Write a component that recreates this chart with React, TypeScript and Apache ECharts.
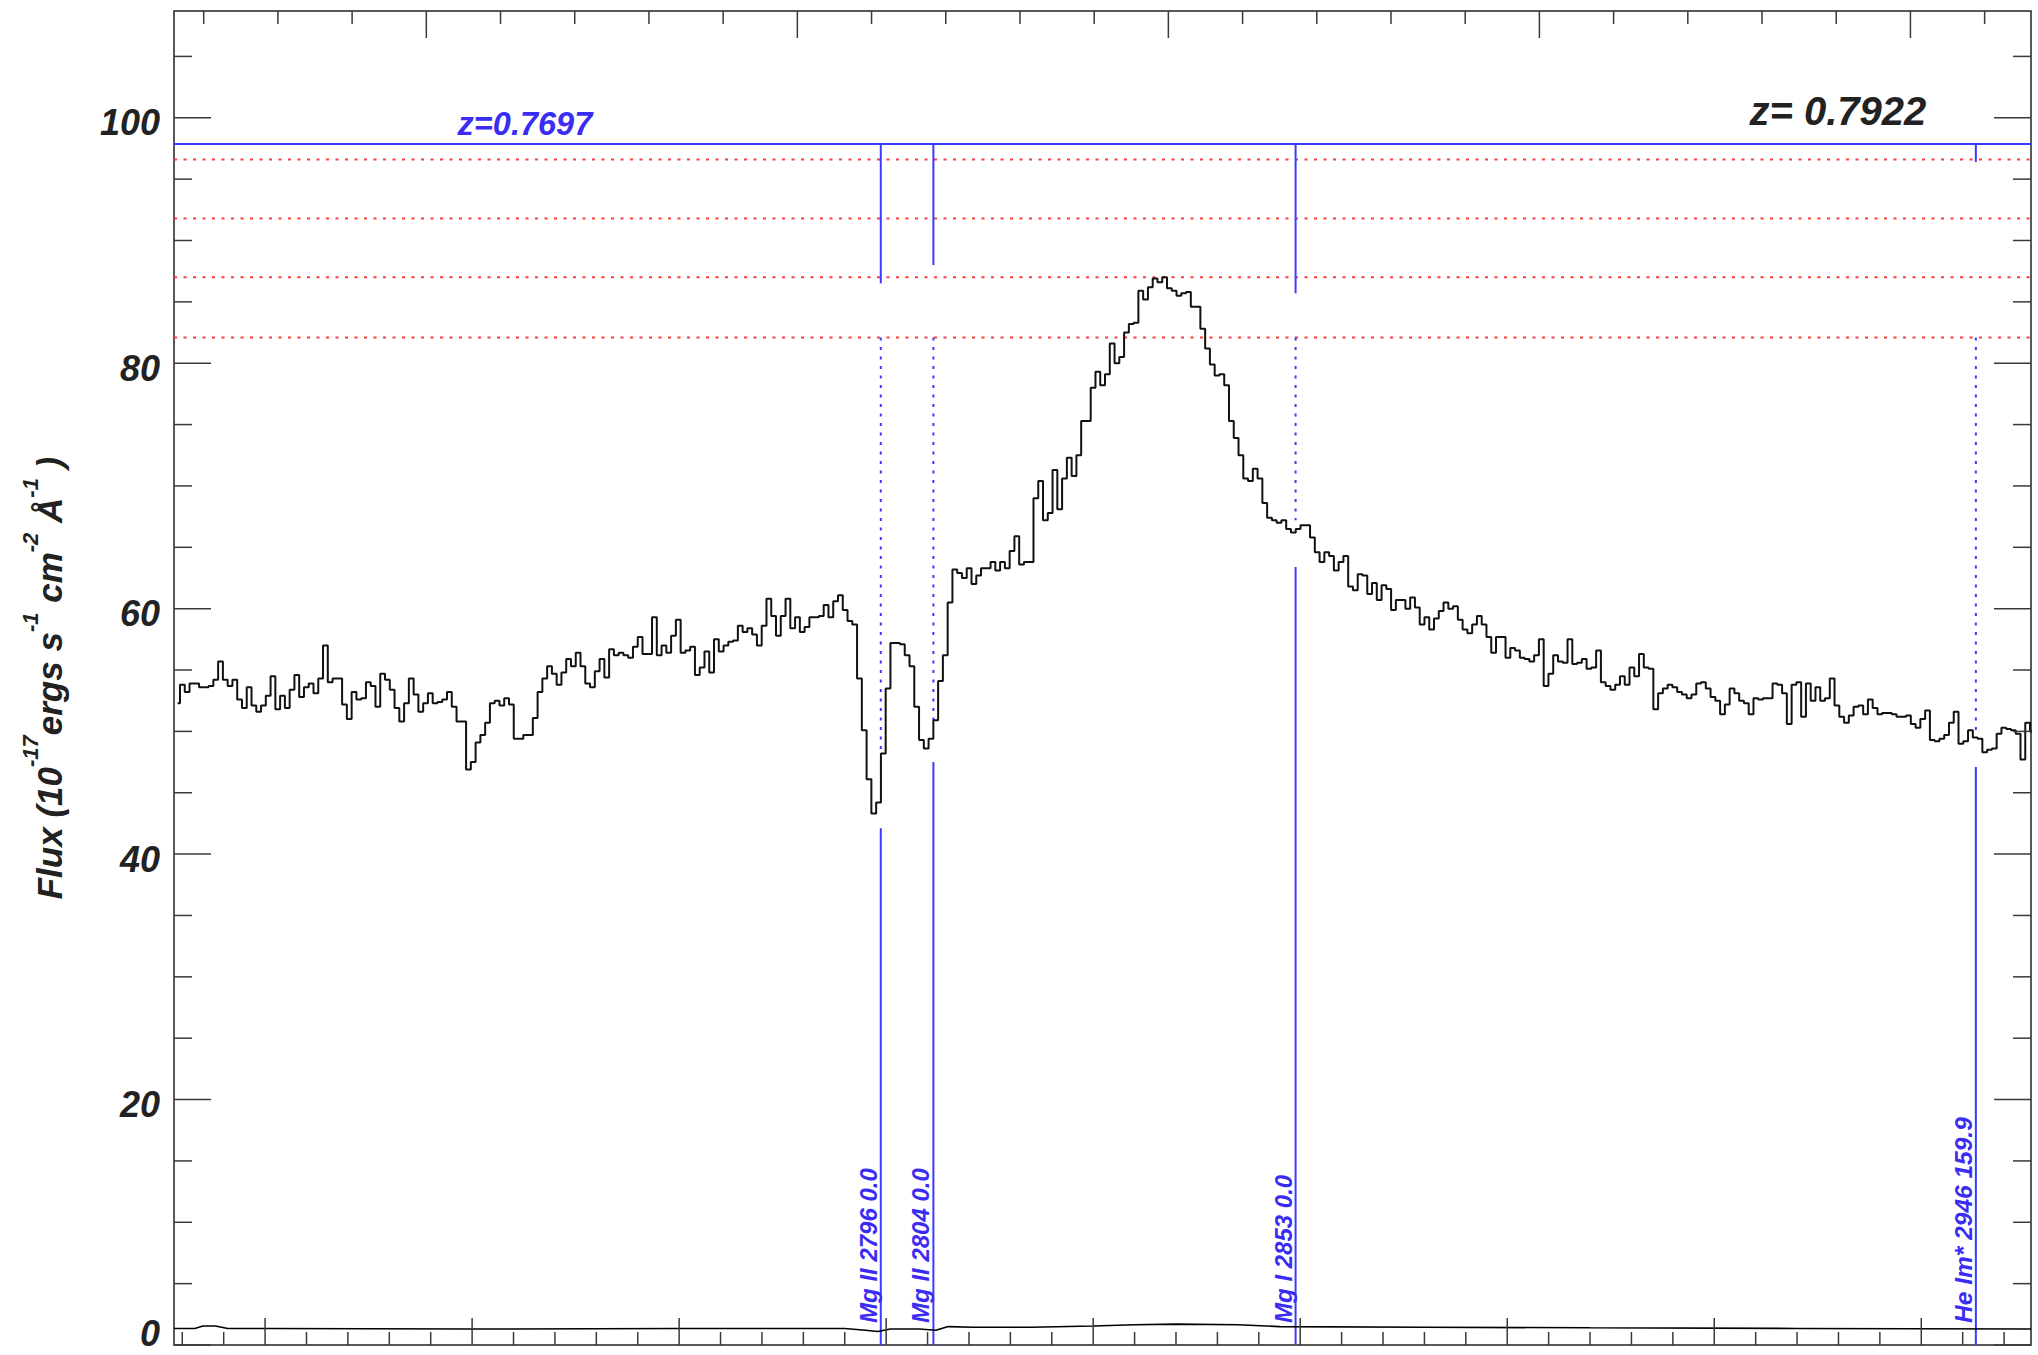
import React, { useEffect, useRef } from "react";
import * as echarts from "echarts";

// ---------------- data ----------------
const Z_EM = 0.7922; // quasar redshift (top axis = rest frame)
const Z_ABS = 0.7697; // absorber redshift
const X_MIN = 4778;
const X_MAX = 5226.5;
const Y_MIN = 0;
const Y_MAX = 108.7;

// uniform wavelength grid of the spectrum (observed frame, Å)
const WAVE_START = 4778.87;
const WAVE_STEP = 1.1516;

const flux = [
  52.3, 53.8, 53.2, 53.9, 53.9, 53.6, 53.6, 53.7, 54.2, 55.7,
  54.2, 53.7, 54.2, 52.6, 51.9, 53.6, 52.1, 51.6, 52.1, 52.9,
  54.5, 51.8, 52.9, 51.9, 53.4, 54.6, 52.8, 53.6, 53.9, 53.1,
  54.3, 57.0, 54.0, 54.3, 54.3, 52.2, 51.0, 53.2, 52.6, 52.7,
  54.0, 53.7, 52.0, 54.7, 54.2, 53.4, 51.9, 50.8, 52.3, 54.3,
  53.0, 51.6, 52.3, 53.1, 52.3, 52.4, 52.6, 53.2, 52.0, 50.8,
  50.8, 46.9, 47.5, 49.1, 49.7, 50.7, 52.3, 52.5, 52.1, 52.7,
  52.2, 49.4, 49.4, 49.7, 49.7, 51.1, 53.2, 54.3, 55.3, 54.7,
  53.8, 54.8, 55.9, 55.3, 56.4, 55.3, 53.9, 53.6, 54.9, 55.9,
  54.4, 56.7, 56.2, 56.4, 56.2, 56.0, 56.9, 57.7, 56.3, 56.3,
  59.3, 56.2, 57.0, 56.4, 57.8, 59.1, 56.4, 56.6, 56.9, 54.6,
  55.2, 56.5, 54.8, 57.5, 56.5, 57.0, 57.3, 57.4, 58.6, 58.1,
  58.4, 57.9, 57.0, 58.6, 60.8, 59.4, 57.8, 59.4, 60.8, 58.4,
  59.3, 58.1, 58.5, 59.3, 59.3, 59.4, 60.3, 59.3, 60.6, 61.1,
  59.9, 59.0, 58.7, 54.3, 50.1, 46.1, 43.3, 44.2, 48.2, 53.5,
  57.2, 57.2, 57.1, 56.2, 55.3, 52.0, 49.3, 48.6, 49.4, 50.9,
  54.1, 56.2, 60.5, 63.2, 62.9, 62.5, 63.3, 62.0, 62.7, 63.3,
  63.3, 63.8, 63.1, 63.8, 63.3, 64.7, 65.9, 63.6, 63.8, 63.8,
  69.0, 70.4, 67.2, 67.8, 71.3, 68.1, 70.6, 72.3, 70.8, 72.5,
  75.3, 75.3, 78.0, 79.3, 78.2, 79.1, 81.6, 80.0, 80.5, 82.5,
  83.2, 83.3, 85.9, 85.2, 86.2, 86.9, 86.6, 87.0, 86.1, 85.9,
  85.5, 85.7, 85.8, 84.6, 84.6, 82.8, 81.2, 79.9, 79.0, 79.1,
  78.2, 75.3, 73.9, 72.5, 70.6, 70.4, 71.4, 70.6, 68.6, 67.4,
  67.2, 67.0, 67.2, 66.5, 66.2, 66.5, 66.8, 66.8, 65.8, 64.6,
  63.8, 64.6, 64.3, 63.1, 63.8, 64.3, 61.8, 61.5, 62.8, 62.7,
  61.2, 62.1, 60.7, 61.9, 61.6, 59.9, 60.7, 60.7, 60.0, 60.9,
  60.1, 58.7, 59.3, 58.3, 59.2, 59.8, 60.5, 60.0, 60.2, 59.1,
  58.3, 58.0, 58.7, 59.4, 58.7, 57.7, 56.4, 57.7, 57.7, 56.0,
  56.8, 56.6, 56.0, 55.9, 55.7, 56.2, 57.5, 53.7, 54.7, 56.2,
  55.7, 55.6, 57.5, 55.5, 55.6, 55.9, 55.1, 55.2, 56.6, 54.0,
  53.7, 53.4, 53.8, 54.5, 53.8, 55.2, 54.5, 56.3, 55.2, 55.1,
  51.8, 53.1, 53.5, 53.8, 53.6, 53.2, 53.0, 52.7, 53.0, 53.9,
  54.0, 53.5, 52.8, 52.5, 51.4, 52.2, 53.5, 53.1, 52.5, 52.3,
  51.4, 52.7, 52.6, 52.7, 52.7, 53.9, 53.8, 53.1, 50.6, 53.8,
  54.0, 51.2, 53.9, 52.5, 53.6, 52.5, 52.7, 54.3, 52.1, 51.2,
  50.7, 51.3, 52.0, 52.1, 51.4, 52.6, 51.9, 51.4, 51.5, 51.5,
  51.4, 51.2, 51.2, 51.3, 50.6, 50.3, 51.0, 51.7, 49.3, 49.2,
  49.4, 49.7, 50.7, 51.6, 49.0, 49.2, 50.1, 49.5, 49.4, 48.3,
  48.5, 48.6, 49.8, 50.3, 50.2, 50.1, 49.8, 47.7, 50.7, 50.0,
];

// error spectrum near zero
const errWave = [4778, 4783, 4785, 4788, 4791, 4800, 4850, 4900, 4940, 4945, 4948, 4951, 4958, 4962, 4965, 4971, 4985, 5000, 5010, 5020, 5035, 5045, 5080, 5120, 5170, 5226.5];
const errFlux = [1.35, 1.35, 1.55, 1.55, 1.35, 1.35, 1.3, 1.35, 1.35, 1.2, 1.1, 1.3, 1.3, 1.2, 1.5, 1.45, 1.45, 1.55, 1.65, 1.7, 1.65, 1.5, 1.45, 1.4, 1.35, 1.3];

// horizontal guide levels
const redLevels = [96.6, 91.8, 87.0, 82.1];
const zLineLevel = 97.86;

// absorption line identifications (absorber frame)
const lineLabels = ["Mg II 2796 0.0", "Mg II 2804 0.0", "Mg I 2853 0.0", "He Im* 2946 159.9"];
const lineRest = [2796.35, 2803.53, 2852.96, 2945.8];
const lineTopEnd = [86.5, 88.0, 85.7, 96.4];
const lineDotEnd = [48.2, 50.9, 67.2, 49.9];
const lineLowStart = [42.1, 47.5, 63.4, 47.1];
const lineLabelY = 1.8;

// ticks
const obsTicks = [4780, 4790, 4800, 4810, 4820, 4830, 4840, 4850, 4860, 4870, 4880, 4890, 4900, 4910, 4920, 4930, 4940, 4950, 4960, 4970, 4980, 4990, 5000, 5010, 5020, 5030, 5040, 5050, 5060, 5070, 5080, 5090, 5100, 5110, 5120, 5130, 5140, 5150, 5160, 5170, 5180, 5190, 5200, 5210, 5220];
const restTicks = [2670, 2680, 2690, 2700, 2710, 2720, 2730, 2740, 2750, 2760, 2770, 2780, 2790, 2800, 2810, 2820, 2830, 2840, 2850, 2860, 2870, 2880, 2890, 2900, 2910];
const yTicks = [0, 5, 10, 15, 20, 25, 30, 35, 40, 45, 50, 55, 60, 65, 70, 75, 80, 85, 90, 95, 100, 105];
const yLabelValues = [0, 20, 40, 60, 80, 100];

const zAbsText = "z=0.7697";
const zEmText = "z= 0.7922";
const zAbsPos = [4846.5, 99.5];
const zEmPos = [5158.5, 100.57];

// ---------------- styles ----------------
const FONT = "Liberation Sans";
const BLUE = "#3b3bff";
const BLUE_TEXT = "#3a2cf2";
const RED = "#ff3a3a";
const INK = "#222222";

function buildOption() {
  const series: any[] = [];

  // spectrum
  series.push({
    type: "line",
    step: "middle",
    symbol: "none",
    z: 5,
    data: flux.map((f, i) => [WAVE_START + i * WAVE_STEP, f]),
    lineStyle: { color: "#111111", width: 2 },
  });

  // error spectrum
  series.push({
    type: "line",
    symbol: "none",
    z: 4,
    data: errWave.map((w, i) => [w, errFlux[i]]),
    lineStyle: { color: "#000000", width: 1.6 },
  });

  // red dotted levels
  redLevels.forEach((lv) => {
    series.push({
      type: "line",
      symbol: "none",
      z: 2,
      data: [[X_MIN, lv], [X_MAX, lv]],
      lineStyle: { color: RED, width: 2, type: [3, 6.5] },
    });
  });

  // blue redshift line
  series.push({
    type: "line",
    symbol: "none",
    z: 3,
    data: [[X_MIN, zLineLevel], [X_MAX, zLineLevel]],
    lineStyle: { color: BLUE, width: 2 },
  });

  // line markers
  lineRest.forEach((r, i) => {
    const x = r * (1 + Z_ABS);
    series.push({
      type: "line", symbol: "none", z: 3,
      data: [[x, zLineLevel], [x, lineTopEnd[i]]],
      lineStyle: { color: BLUE, width: 2 },
    });
    series.push({
      type: "line", symbol: "none", z: 3,
      data: [[x, redLevels[3]], [x, lineDotEnd[i]]],
      lineStyle: { color: BLUE, width: 2, type: [3, 6.5] },
    });
    series.push({
      type: "line", symbol: "none", z: 3,
      data: [[x, lineLowStart[i]], [x, Y_MIN]],
      lineStyle: { color: BLUE, width: 2 },
    });
  });

  // rotated line labels
  series.push({
    type: "custom",
    coordinateSystem: "cartesian2d",
    z: 6,
    data: lineRest.map((r, i) => [r * (1 + Z_ABS), lineLabelY, i]),
    renderItem: (params: any, api: any) => {
      const p = api.coord([api.value(0), api.value(1)]);
      const idx = api.value(2);
      return {
        type: "text",
        x: p[0] - 12.5,
        y: p[1],
        rotation: Math.PI / 2,
        style: {
          text: lineLabels[idx],
          fill: BLUE_TEXT,
          fontFamily: FONT,
          fontWeight: "bold",
          fontStyle: "italic",
          fontSize: idx === 3 ? 24.5 : 24,
          align: "left",
          verticalAlign: "middle",
          textAlign: "left",
          textVerticalAlign: "middle",
        },
      };
    },
  });

  // redshift texts
  series.push({
    type: "custom",
    coordinateSystem: "cartesian2d",
    z: 6,
    data: [[zAbsPos[0], zAbsPos[1], 0], [zEmPos[0], zEmPos[1], 1]],
    renderItem: (params: any, api: any) => {
      const p = api.coord([api.value(0), api.value(1)]);
      const idx = api.value(2);
      return {
        type: "text",
        x: p[0],
        y: p[1],
        style: {
          text: idx === 0 ? zAbsText : zEmText,
          fill: idx === 0 ? BLUE_TEXT : INK,
          fontFamily: FONT,
          fontWeight: "bold",
          fontStyle: "italic",
          fontSize: idx === 0 ? 32.5 : 40,
          align: "left",
          verticalAlign: "middle",
          textAlign: "left",
          textVerticalAlign: "middle",
        },
      };
    },
  });

  // axis ticks (all four sides)
  const tickItems: number[][] = [];
  obsTicks.forEach((v) => tickItems.push([v, Y_MIN, v % 50 === 0 ? 1 : 0, 0]));
  restTicks.forEach((v) => tickItems.push([v * (1 + Z_EM), Y_MAX, v % 50 === 0 ? 1 : 0, 1]));
  yTicks.forEach((v) => {
    tickItems.push([X_MIN, v, v % 20 === 0 ? 1 : 0, 2]);
    tickItems.push([X_MAX, v, v % 20 === 0 ? 1 : 0, 3]);
  });
  series.push({
    type: "custom",
    coordinateSystem: "cartesian2d",
    z: 7,
    data: tickItems,
    renderItem: (params: any, api: any) => {
      const p = api.coord([api.value(0), api.value(1)]);
      const major = api.value(2) === 1;
      const side = api.value(3);
      let x2 = p[0];
      let y2 = p[1];
      if (side === 0) y2 = p[1] - (major ? 27 : 13);
      else if (side === 1) y2 = p[1] + (major ? 27 : 13);
      else if (side === 2) x2 = p[0] + (major ? 37 : 18);
      else x2 = p[0] - (major ? 37 : 18);
      return {
        type: "line",
        shape: { x1: p[0], y1: p[1], x2, y2 },
        style: { stroke: "#3a3a3a", lineWidth: 1.5 },
      };
    },
  });

  const labelBase = { fontFamily: FONT, fontWeight: "bold", fontStyle: "italic", fontSize: 36, color: INK };
  const nameBase = { fontFamily: FONT, fontWeight: "bold", fontStyle: "italic", color: INK };

  return {
    animation: false,
    backgroundColor: "#ffffff",
    grid: {
      left: 174, top: 11, width: 1857, height: 1334,
      show: true, borderColor: "#222222", borderWidth: 1.5, backgroundColor: "transparent",
    },
    xAxis: {
      type: "value", min: X_MIN, max: X_MAX,
      axisLine: { show: false }, axisTick: { show: false }, axisLabel: { show: false }, splitLine: { show: false },
    },
    yAxis: {
      type: "value", min: Y_MIN, max: Y_MAX,
      axisLine: { show: false }, axisTick: { show: false }, splitLine: { show: false },
      axisLabel: {
        show: true,
        customValues: yLabelValues,
        margin: 14,
        ...labelBase,
        formatter: (v: number) => (v === 0 ? "{z|0}" : "{n|" + v + "}"),
        rich: {
          n: { ...labelBase, padding: [10, 0, 0, 0] },
          z: { ...labelBase, padding: [0, 0, 24, 0] },
        },
      },
      name: "{b|Flux (10}{s|-17}{b|ergs s}{s|-1}{b| cm}{s|-2}{b| Å}{s|-1}{b| )}",
      nameLocation: "middle",
      nameRotate: 90,
      nameGap: 107,
      nameTextStyle: {
        ...nameBase,
        fontSize: 35,
        rich: {
          b: { ...nameBase, fontSize: 35, lineHeight: 48, verticalAlign: "bottom" },
          s: { ...nameBase, fontSize: 22, lineHeight: 24, verticalAlign: "top" },
        },
      },
    },
    series,
  };
}

export default function App() {
  const ref = useRef<HTMLDivElement>(null);
  useEffect(() => {
    if (!ref.current) return;
    const chart = echarts.init(ref.current, null, { renderer: "svg" });
    chart.setOption(buildOption() as any);
    return () => chart.dispose();
  }, []);
  return (
    <div
      ref={ref}
      style={{ position: "absolute", left: 0, top: 0, width: 2038, height: 1355, background: "#ffffff" }}
    />
  );
}
